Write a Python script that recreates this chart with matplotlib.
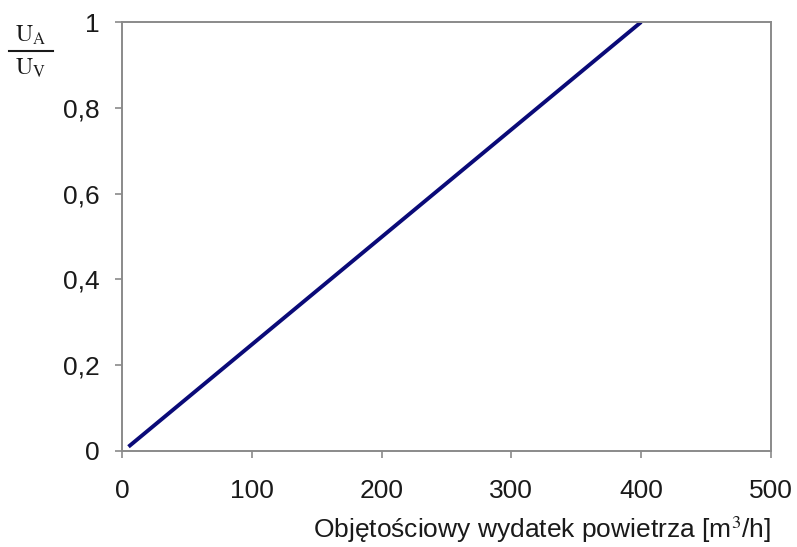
import matplotlib
matplotlib.use("Agg")
import matplotlib.pyplot as plt
from matplotlib.lines import Line2D

plt.rcParams['font.family'] = ['Liberation Sans', 'DejaVu Sans']
plt.rcParams['mathtext.fontset'] = 'stix'

# Data
flow = [5, 400]           # m3/h
ratio = [0.01, 1.0]       # U_A / U_V
xticks = [0, 100, 200, 300, 400, 500]
yticks = [0, 0.2, 0.4, 0.6, 0.8, 1.0]
ytick_labels = ["0", "0,2", "0,4", "0,6", "0,8", "1"]

W, H = 797, 547
fig = plt.figure(figsize=(W / 100, H / 100), dpi=100)
ax = fig.add_axes([122 / W, 1 - 451 / H, (771 - 122) / W, (451 - 22) / H])

ax.plot(flow, ratio, color='#0a0a78', linewidth=2.8, solid_capstyle='butt')

ax.set_xlim(0, 500)
ax.set_ylim(0, 1)
ax.set_xticks(xticks)
ax.set_xticklabels([str(t) for t in xticks])
ax.set_yticks(yticks)
ax.set_yticklabels(ytick_labels)

for s in ax.spines.values():
    s.set_color('#8a8a8a')
    s.set_linewidth(1.4)
ax.tick_params(axis='both', direction='out', length=5, width=1.2, color='#8a8a8a',
               labelsize=19, labelcolor='#1a1a1a')
ax.tick_params(axis='x', pad=15)
ax.tick_params(axis='y', pad=11)

ax.set_xlabel("Objętościowy wydatek powietrza [m$^3$/h]", fontsize=19,
              color='#1a1a1a', loc='right', labelpad=8)

# y-axis label as fraction U_A / U_V
fig.text(15 / W, 1 - 42 / H, r'$\mathrm{U_A}$', fontsize=17, ha='left', va='baseline', color='#1a1a1a')
fig.text(15 / W, 1 - 75 / H, r'$\mathrm{U_V}$', fontsize=17, ha='left', va='baseline', color='#1a1a1a')
fig.add_artist(Line2D([9 / W, 53 / W], [1 - 51 / H, 1 - 51 / H], color='#1a1a1a',
                      linewidth=1.5, transform=fig.transFigure))

fig.savefig("out.png", dpi=100)
